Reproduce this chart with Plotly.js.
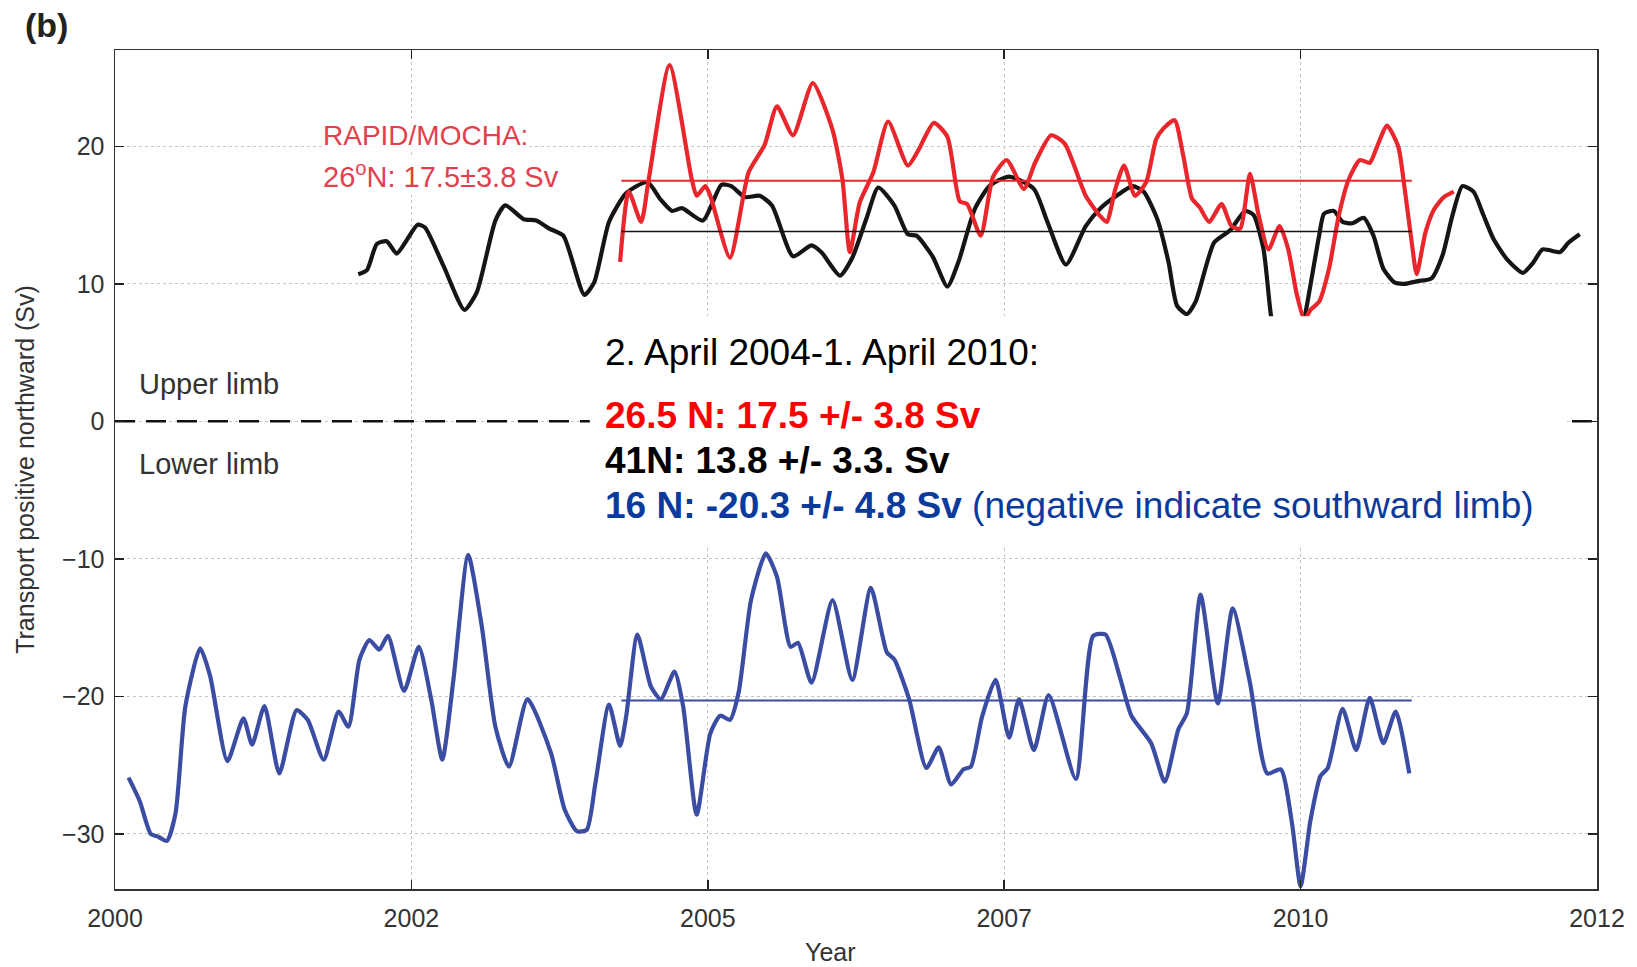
<!DOCTYPE html>
<html>
<head>
<meta charset="utf-8">
<script src="https://cdn.plot.ly/plotly-3.0.1.min.js"></script>
<style>
  html, body { margin: 0; padding: 0; background: #fff; }
  #chart { width: 1637px; height: 967px; }
</style>
</head>
<body>
<div id="chart"></div>
<script>
// ---- Data ----
// RAPID/MOCHA 26.5N (red)
const red_x = [2004.09, 2004.16, 2004.26, 2004.32, 2004.49, 2004.67, 2004.71, 2004.78, 2004.82, 2004.98, 2005.13, 2005.26, 2005.36, 2005.49, 2005.65, 2005.81, 2005.89, 2005.95, 2006.03, 2006.14, 2006.26, 2006.42, 2006.51, 2006.63, 2006.74, 2006.84, 2006.9, 2007.01, 2007.11, 2007.22, 2007.36, 2007.45, 2007.58, 2007.69, 2007.86, 2007.97, 2008.03, 2008.1, 2008.17, 2008.26, 2008.35, 2008.43, 2008.49, 2008.58, 2008.65, 2008.72, 2008.78, 2008.86, 2008.96, 2009.04, 2009.11, 2009.19, 2009.26, 2009.34, 2009.43, 2009.5, 2009.57, 2009.63, 2009.68, 2009.75, 2009.83, 2009.91, 2009.99, 2010.08, 2010.16, 2010.22, 2010.3, 2010.39, 2010.44, 2010.5, 2010.54, 2010.61, 2010.68, 2010.76, 2010.84];
const red_y = [11.6, 16.7, 14.5, 17.5, 25.9, 17.6, 16.4, 17.1, 16.4, 11.9, 18.1, 20.1, 22.9, 20.8, 24.6, 21.2, 17.6, 12.3, 15.9, 18.1, 21.8, 18.6, 19.8, 21.7, 20.7, 16.0, 15.8, 13.5, 17.8, 19.0, 16.9, 18.8, 20.8, 20.2, 16.4, 15.0, 14.5, 16.9, 18.6, 16.4, 17.4, 20.5, 21.3, 21.9, 19.3, 16.2, 15.6, 14.5, 15.8, 14.2, 14.0, 18.0, 15.0, 12.5, 14.2, 12.5, 9.2, 7.4, 8.1, 8.7, 11.1, 15.0, 17.6, 19.0, 18.8, 20.0, 21.5, 20.0, 17.1, 13.0, 10.7, 13.7, 15.4, 16.3, 16.7];

// 41N (black)
const black_x = [2001.97, 2002.04, 2002.12, 2002.2, 2002.28, 2002.35, 2002.45, 2002.51, 2002.66, 2002.83, 2002.93, 2003.08, 2003.16, 2003.31, 2003.41, 2003.52, 2003.63, 2003.8, 2003.88, 2004.0, 2004.14, 2004.31, 2004.42, 2004.51, 2004.59, 2004.76, 2004.91, 2004.99, 2005.1, 2005.22, 2005.32, 2005.49, 2005.64, 2005.72, 2005.87, 2005.97, 2006.09, 2006.18, 2006.31, 2006.42, 2006.49, 2006.62, 2006.74, 2006.83, 2006.96, 2007.08, 2007.24, 2007.44, 2007.55, 2007.7, 2007.86, 2007.98, 2008.11, 2008.24, 2008.33, 2008.44, 2008.53, 2008.6, 2008.68, 2008.75, 2008.9, 2009.03, 2009.15, 2009.22, 2009.3, 2009.36, 2009.43, 2009.5, 2009.57, 2009.64, 2009.75, 2009.79, 2009.87, 2009.94, 2010.02, 2010.11, 2010.19, 2010.27, 2010.36, 2010.44, 2010.55, 2010.66, 2010.75, 2010.83, 2010.91, 2011.0, 2011.08, 2011.16, 2011.27, 2011.4, 2011.48, 2011.56, 2011.7, 2011.77, 2011.86];
const black_y = [10.7, 11.0, 12.9, 13.1, 12.2, 13.0, 14.3, 14.1, 11.3, 8.1, 9.4, 14.6, 15.7, 14.7, 14.6, 14.0, 13.5, 9.2, 10.1, 14.5, 16.6, 17.4, 16.1, 15.3, 15.5, 14.6, 17.2, 17.1, 16.3, 16.4, 15.7, 12.0, 12.8, 12.3, 10.6, 11.9, 14.9, 17.0, 15.7, 13.6, 13.5, 12.0, 9.8, 11.6, 15.4, 17.1, 17.8, 16.9, 14.5, 11.4, 14.2, 15.5, 16.4, 17.1, 16.7, 14.7, 11.6, 8.4, 7.8, 8.7, 13.0, 13.9, 15.3, 15.0, 12.5, 7.7, 4.5, 3.5, 5.0, 7.9, 13.5, 15.1, 15.3, 14.5, 14.4, 14.8, 13.5, 11.1, 10.1, 10.0, 10.2, 10.4, 12.1, 15.0, 17.1, 16.7, 15.0, 13.3, 11.8, 10.8, 11.5, 12.5, 12.3, 13.0, 13.6];

// 16N (blue, lower limb)
const blue_x = [2000.11, 2000.2, 2000.29, 2000.35, 2000.42, 2000.49, 2000.57, 2000.69, 2000.77, 2000.91, 2001.04, 2001.11, 2001.21, 2001.33, 2001.47, 2001.56, 2001.69, 2001.81, 2001.89, 2001.98, 2002.06, 2002.14, 2002.21, 2002.34, 2002.46, 2002.56, 2002.65, 2002.74, 2002.86, 2002.97, 2003.08, 2003.19, 2003.34, 2003.53, 2003.64, 2003.74, 2003.82, 2003.89, 2004.0, 2004.09, 2004.14, 2004.23, 2004.34, 2004.42, 2004.53, 2004.6, 2004.71, 2004.82, 2004.9, 2004.98, 2005.05, 2005.15, 2005.27, 2005.36, 2005.47, 2005.53, 2005.64, 2005.81, 2005.97, 2006.12, 2006.25, 2006.31, 2006.43, 2006.57, 2006.67, 2006.77, 2006.87, 2006.93, 2007.02, 2007.13, 2007.24, 2007.32, 2007.44, 2007.56, 2007.78, 2007.92, 2008.02, 2008.14, 2008.23, 2008.39, 2008.5, 2008.61, 2008.68, 2008.79, 2008.93, 2009.05, 2009.19, 2009.33, 2009.44, 2009.53, 2009.6, 2009.68, 2009.76, 2009.82, 2009.94, 2010.05, 2010.16, 2010.27, 2010.37, 2010.48];
const blue_y = [-25.9, -27.6, -30.0, -30.2, -30.5, -28.5, -20.7, -16.5, -18.5, -24.7, -21.6, -23.5, -20.7, -25.6, -21.0, -21.7, -24.6, -21.1, -22.2, -17.3, -15.9, -16.6, -15.6, -19.6, -16.4, -20.2, -24.6, -18.8, -9.7, -14.9, -22.2, -25.1, -20.2, -24.1, -28.2, -29.8, -29.7, -26.3, -20.6, -23.6, -21.4, -15.5, -19.3, -20.2, -18.2, -20.7, -28.6, -22.7, -21.4, -21.7, -19.7, -13.0, -9.6, -11.3, -16.4, -16.1, -19.0, -13.0, -18.8, -12.1, -16.8, -17.3, -20.2, -25.2, -23.7, -26.4, -25.3, -25.1, -21.5, -18.8, -23.0, -20.2, -23.9, -19.9, -26.0, -15.6, -15.5, -18.7, -21.4, -23.4, -26.2, -22.4, -21.2, -12.6, -20.5, -13.6, -19.0, -25.6, -25.3, -29.2, -33.8, -29.0, -25.8, -25.2, -20.9, -23.9, -20.1, -23.4, -21.1, -25.6];

// Period means
const mean_period = [2004.1, 2010.5];
const mean_red = 17.5;
const mean_black = 13.8;
const mean_blue = -20.3;

// Zero (limb divider) line extent and axis ticks
const zero_x = [2000, 2012];
const zero_y = [0, 0];
const x_tickvals = [2000, 2002.4, 2004.8, 2007.2, 2009.6, 2012];
const x_ticktext = ['2000', '2002', '2005', '2007', '2010', '2012'];
const y_tickvals = [-30, -20, -10, 0, 10, 20];

// ---- Styles ----
const RED = '#e8262b', BLACK = '#151515', BLUE = '#3b4da3';
const FONT = 'Liberation Sans, Arial, Helvetica, sans-serif';
const SPL = {shape: 'spline', smoothing: 0.6};

const traces = [
  {x: zero_x, y: zero_y, mode: 'lines', line: {color: '#111', width: 2.5, dash: '20px,11px'}, hoverinfo: 'skip'},
  {x: blue_x, y: blue_y, mode: 'lines', line: Object.assign({color: BLUE, width: 4.2}, SPL), name: '16N'},
  {x: black_x, y: black_y, mode: 'lines', line: Object.assign({color: BLACK, width: 4.2}, SPL), name: '41N'},
  {x: red_x, y: red_y, mode: 'lines', line: Object.assign({color: RED, width: 4.2}, SPL), name: '26.5N'},
  {x: mean_period, y: [mean_red, mean_red], mode: 'lines', line: {color: RED, width: 2}},
  {x: mean_period, y: [mean_black, mean_black], mode: 'lines', line: {color: BLACK, width: 1.6}},
  {x: mean_period, y: [mean_blue, mean_blue], mode: 'lines', line: {color: BLUE, width: 2}}
];

const boxLeft = 0.3296;
const layout = {
  width: 1637, height: 967,
  margin: {l: 115, r: 40, t: 50, b: 78},
  paper_bgcolor: '#fff', plot_bgcolor: '#fff',
  showlegend: false,
  font: {family: FONT, color: '#333'},
  xaxis: {
    range: [2000, 2012],
    tickvals: x_tickvals, ticktext: x_ticktext,
    ticks: 'inside', ticklen: 9, tickwidth: 1.5, tickcolor: '#222',
    showline: true, linecolor: '#333', linewidth: 1.5, mirror: 'ticks',
    showgrid: true, gridcolor: '#c4c4c4', griddash: 'dot', gridwidth: 1,
    zeroline: false,
    ticklabelstandoff: 6,
    tickfont: {size: 25, color: '#333'}
  },
  yaxis: {
    range: [-34, 27],
    tickvals: y_tickvals,
    ticks: 'inside', ticklen: 9, tickwidth: 1.5, tickcolor: '#222',
    showline: true, linecolor: '#333', linewidth: 1.5, mirror: 'ticks',
    showgrid: true, gridcolor: '#c4c4c4', griddash: 'dot', gridwidth: 1,
    zeroline: false,
    ticklabelstandoff: 4,
    tickfont: {size: 25, color: '#333'},
    title: {text: 'Transport positive northward (Sv)', font: {size: 25, color: '#333'}, standoff: 20}
  },
  shapes: [
    {type: 'rect', xref: 'paper', yref: 'paper', x0: 0.3204, x1: 0.9791, y0: 0.41, y1: 0.6826,
     fillcolor: '#ffffff', line: {width: 0}, layer: 'above'}
  ],
  annotations: [
    {xref: 'paper', yref: 'paper', x: 0.483, y: -0.075, xanchor: 'center', yanchor: 'middle',
     text: 'Year', showarrow: false, font: {size: 25, color: '#333'}},
    {xref: 'paper', yref: 'paper', x: -0.062, y: 1.03, xanchor: 'left', yanchor: 'middle',
     text: '<b>(b)</b>', showarrow: false, font: {size: 34, color: '#222'}},
    {xref: 'paper', yref: 'paper', x: 0.139, y: 0.898, xanchor: 'left', yanchor: 'middle',
     text: 'RAPID/MOCHA:', showarrow: false, font: {size: 28, color: '#e2404c'}, bgcolor: 'rgba(255,255,255,0.85)'},
    {xref: 'paper', yref: 'paper', x: 0.139, y: 0.8505, xanchor: 'left', yanchor: 'middle',
     text: '26<sup>o</sup>N: 17.5±3.8 Sv', showarrow: false, font: {size: 29, color: '#e2404c'}, bgcolor: 'rgba(255,255,255,0.85)'},
    {xref: 'paper', yref: 'paper', x: 0.0146, y: 0.602, xanchor: 'left', yanchor: 'middle',
     text: 'Upper limb', showarrow: false, font: {size: 29, color: '#333'}},
    {xref: 'paper', yref: 'paper', x: 0.0146, y: 0.506, xanchor: 'left', yanchor: 'middle',
     text: 'Lower limb', showarrow: false, font: {size: 29, color: '#333'}},
    {xref: 'paper', yref: 'paper', x: boxLeft, y: 0.639, xanchor: 'left', yanchor: 'middle',
     text: '2. April 2004-1. April 2010:', showarrow: false, font: {size: 37, color: '#000'}},
    {xref: 'paper', yref: 'paper', x: boxLeft, y: 0.5644, xanchor: 'left', yanchor: 'middle',
     text: '<b>26.5 N: 17.5 +/- 3.8 Sv</b>', showarrow: false, font: {size: 37, color: '#ff0000'}},
    {xref: 'paper', yref: 'paper', x: boxLeft, y: 0.5108, xanchor: 'left', yanchor: 'middle',
     text: '<b>41N: 13.8 +/- 3.3. Sv</b>', showarrow: false, font: {size: 37, color: '#000'}},
    {xref: 'paper', yref: 'paper', x: boxLeft, y: 0.4573, xanchor: 'left', yanchor: 'middle',
     text: '<b>16 N: -20.3 +/- 4.8 Sv</b> (negative indicate southward limb)', showarrow: false, font: {size: 37, color: '#0a3a9c'}}
  ]
};

Plotly.newPlot('chart', traces, layout, {staticPlot: true, displayModeBar: false});
</script>
</body>
</html>
